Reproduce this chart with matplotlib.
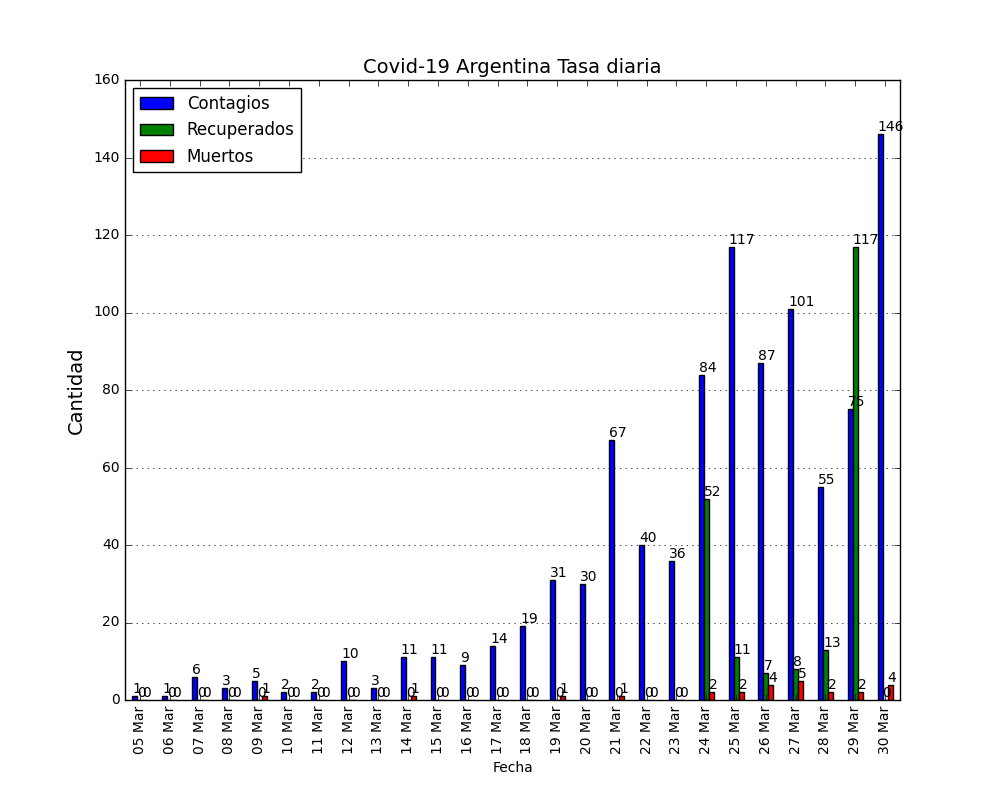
import numpy as np
import matplotlib
matplotlib.use("Agg")
import matplotlib.pyplot as plt

plt.style.use("classic")

fechas = ["05 Mar", "06 Mar", "07 Mar", "08 Mar", "09 Mar", "10 Mar", "11 Mar", "12 Mar",
          "13 Mar", "14 Mar", "15 Mar", "16 Mar", "17 Mar", "18 Mar", "19 Mar", "20 Mar",
          "21 Mar", "22 Mar", "23 Mar", "24 Mar", "25 Mar", "26 Mar", "27 Mar", "28 Mar",
          "29 Mar", "30 Mar"]
contagios = [1, 1, 6, 3, 5, 2, 2, 10, 3, 11, 11, 9, 14, 19, 31, 30, 67, 40, 36, 84, 117, 87, 101, 55, 75, 146]
recuperados = [0, 0, 0, 0, 0, 0, 0, 0, 0, 0, 0, 0, 0, 0, 0, 0, 0, 0, 0, 52, 11, 7, 8, 13, 117, 0]
muertos = [0, 0, 0, 0, 1, 0, 0, 0, 0, 1, 0, 0, 0, 0, 1, 0, 1, 0, 0, 2, 2, 4, 5, 2, 2, 4]

fig, ax = plt.subplots(figsize=(10, 8), dpi=100)
fig.subplots_adjust(left=0.125, right=0.9, bottom=0.125, top=0.9)
x = np.arange(len(fechas))
w = 0.5 / 3
series = [("Contagios", contagios, "blue"), ("Recuperados", recuperados, "green"), ("Muertos", muertos, "red")]
for i, (name, vals, col) in enumerate(series):
    bars = ax.bar(x - 0.25 + i * w, vals, w, color=col, label=name, align="edge")
    for b in bars:
        ax.text(b.get_x(), b.get_height(), str(int(b.get_height())), fontsize=10, va="bottom")

ax.set_xlim(-0.5, len(fechas) - 0.5)
ax.set_ylim(0, 160)
ax.set_xticks(x)
ax.set_xticklabels(fechas, rotation=90)
ax.tick_params(labelsize=10)
ax.yaxis.grid(True)
ax.set_title("Covid-19 Argentina Tasa diaria", fontsize=14)
ax.set_ylabel("Cantidad", fontsize=14)
ax.set_xlabel("Fecha", fontsize=10)
ax.legend(loc="upper left", fontsize=12)
fig.savefig("out.png")
